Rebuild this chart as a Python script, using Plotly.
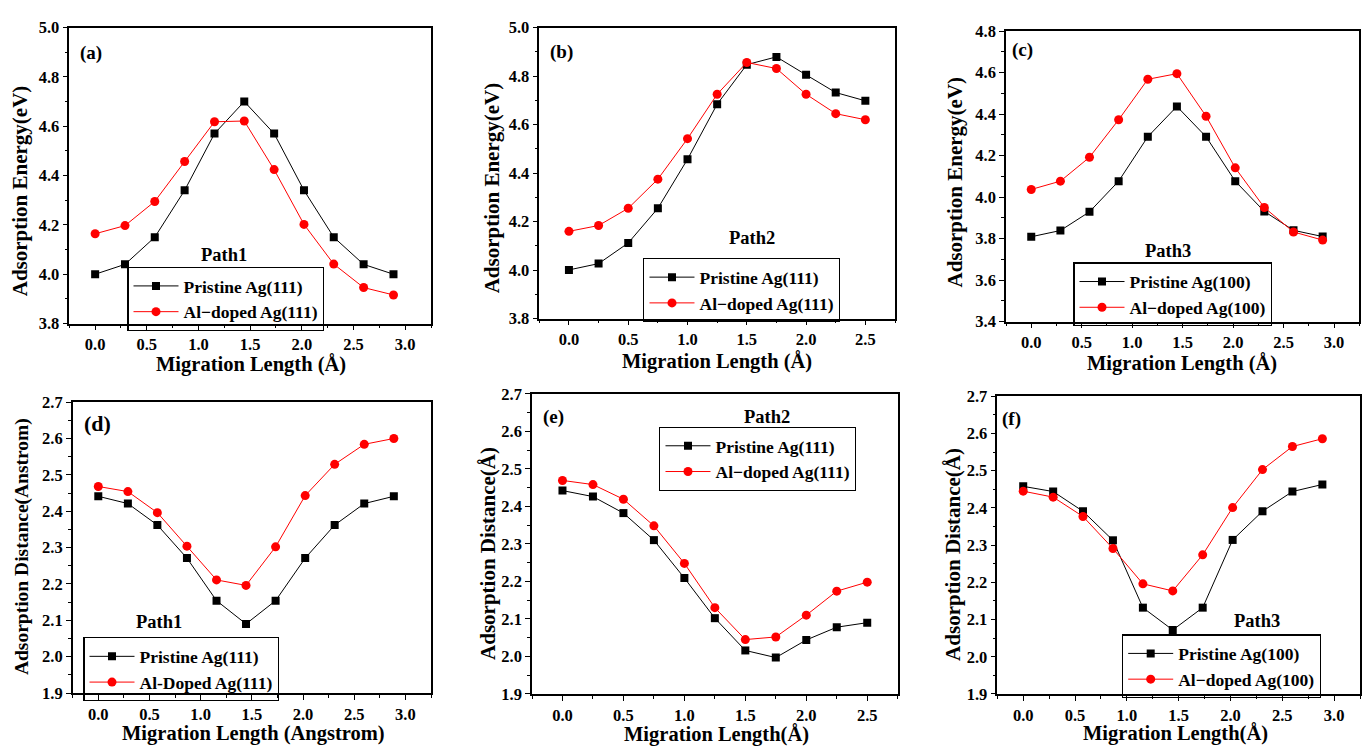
import plotly.graph_objects as go

# ---------------- data ----------------
x_path1 = [0.0, 0.289, 0.577, 0.866, 1.155, 1.443, 1.732, 2.021, 2.309, 2.598, 2.887]
x_path2 = [0.0, 0.25, 0.5, 0.75, 1.0, 1.25, 1.5, 1.75, 2.0, 2.25, 2.5]
x_path3 = [0.0, 0.289, 0.577, 0.866, 1.155, 1.443, 1.732, 2.021, 2.309, 2.598, 2.887]

energy_p1_pristine = [4.00, 4.04, 4.15, 4.34, 4.57, 4.70, 4.57, 4.34, 4.15, 4.04, 4.00]
energy_p1_doped = [4.164, 4.197, 4.295, 4.457, 4.618, 4.621, 4.424, 4.202, 4.041, 3.946, 3.916]
energy_p2_pristine = [4.001, 4.027, 4.112, 4.255, 4.457, 4.684, 4.847, 4.879, 4.805, 4.732, 4.698]
energy_p2_doped = [4.160, 4.184, 4.255, 4.375, 4.542, 4.725, 4.856, 4.831, 4.725, 4.645, 4.620]
energy_p3_pristine = [3.809, 3.839, 3.929, 4.077, 4.291, 4.437, 4.291, 4.077, 3.931, 3.840, 3.810]
energy_p3_doped = [4.037, 4.077, 4.192, 4.373, 4.568, 4.595, 4.390, 4.141, 3.950, 3.832, 3.793]

dist_p1_pristine = [2.441, 2.421, 2.362, 2.271, 2.154, 2.090, 2.154, 2.271, 2.362, 2.421, 2.441]
dist_p1_doped = [2.468, 2.454, 2.396, 2.304, 2.211, 2.196, 2.302, 2.443, 2.529, 2.584, 2.600]
dist_p2_pristine = [2.442, 2.426, 2.382, 2.310, 2.209, 2.102, 2.016, 1.997, 2.044, 2.078, 2.090]
dist_p2_doped = [2.469, 2.458, 2.419, 2.348, 2.248, 2.130, 2.045, 2.052, 2.110, 2.174, 2.198]
dist_p3_pristine = [2.458, 2.444, 2.391, 2.313, 2.132, 2.072, 2.132, 2.314, 2.391, 2.444, 2.463]
dist_p3_doped = [2.445, 2.429, 2.377, 2.291, 2.196, 2.177, 2.274, 2.401, 2.503, 2.565, 2.586]

panel_letters = ["(a)", "(b)", "(c)", "(d)", "(e)", "(f)"]
path_labels = ["Path1", "Path2", "Path3", "Path1", "Path2", "Path3"]
pristine_names = ["Pristine Ag(111)", "Pristine Ag(111)", "Pristine Ag(100)",
                  "Pristine Ag(111)", "Pristine Ag(111)", "Pristine Ag(100)"]
doped_names = ["Al\u2212doped Ag(111)", "Al\u2212doped Ag(111)", "Al\u2212doped Ag(100)",
               "Al-Doped Ag(111)", "Al\u2212doped Ag(111)", "Al\u2212doped Ag(100)"]
x_titles = ["Migration Length (\u00c5)", "Migration Length (\u00c5)", "Migration Length (\u00c5)",
            "Migration Length (Angstrom)", "Migration Length(\u00c5)", "Migration Length(\u00c5)"]
y_titles = ["Adsorption Energy(eV)", "Adsorption Energy(eV)", "Adsorption Energy(eV)",
            "Adsorption Distance(Anstrom)", "Adsorption Distance(\u00c5)", "Adsorption Distance(\u00c5)"]

xs = [x_path1, x_path2, x_path3, x_path1, x_path2, x_path3]
ys_pristine = [energy_p1_pristine, energy_p2_pristine, energy_p3_pristine,
               dist_p1_pristine, dist_p2_pristine, dist_p3_pristine]
ys_doped = [energy_p1_doped, energy_p2_doped, energy_p3_doped,
            dist_p1_doped, dist_p2_doped, dist_p3_doped]

x_ranges = [[-0.25, 3.25], [-0.25, 2.75], [-0.25, 3.25], [-0.25, 3.25], [-0.25, 2.75], [-0.25, 3.25]]
y_ranges = [[3.8, 5.0], [3.8, 5.0], [3.4, 4.8], [1.9, 2.7], [1.9, 2.7], [1.9, 2.7]]
y_dticks = [0.2, 0.2, 0.2, 0.1, 0.1, 0.1]

# ---------------- layout geometry (pixels) ----------------
W, H = 1365, 754
frames = [  # left, right, top, bottom
    (69.3, 431.0, 19.0, 322.7),
    (539.3, 895.0, 19.0, 317.7),
    (1006.0, 1359.3, 22.7, 320.7),
    (72.7, 431.0, 403.3, 701.7),
    (532.0, 897.7, 394.7, 702.7),
    (997.3, 1360.0, 397.3, 702.7),
]
legend_pos = [(127.3, 264.5), (643.3, 255.5), (1073.3, 260.0),
              (83.3, 644.5), (659.3, 428.5), (1122.0, 641.5)]
letter_pos = [(91, 45), (561, 44), (1022, 42), (97, 425), (553, 419), (1011, 421)]
path_pos = [(224, 252), (752, 235), (1168, 248), (159, 629), (767, 419), (1257, 628)]
ytitle_pos = [(20, 187), (492, 184), (955, 177), (22, 552), (488, 559), (953, 560)]
ytitle_sizes = [21, 21, 21, 19.5, 21, 21]
xtitle_pos = [(251, 365), (717, 362), (1182, 364), (253, 743), (716, 744), (1175, 743)]

FONT = "Liberation Serif"


def px(x):
    return x / W


def py(y):
    return 1 - y / H


fig = go.Figure()
layout = dict(
    width=W, height=H,
    margin=dict(l=0, r=0, t=0, b=0),
    paper_bgcolor="white", plot_bgcolor="white",
    font=dict(family=FONT, color="black", size=15, weight="bold"),
    showlegend=True,
)
annotations = []

for i in range(6):
    n = i + 1
    xa = "x" if n == 1 else f"x{n}"
    ya = "y" if n == 1 else f"y{n}"
    leg = "legend" if n == 1 else f"legend{n}"
    fig.add_trace(go.Scatter(
        x=xs[i], y=ys_pristine[i], mode="lines+markers", name=pristine_names[i],
        line=dict(color="black", width=1),
        marker=dict(symbol="square", size=8, color="black"),
        xaxis=xa, yaxis=ya, legend=leg))
    fig.add_trace(go.Scatter(
        x=xs[i], y=ys_doped[i], mode="lines+markers", name=doped_names[i],
        line=dict(color="red", width=1),
        marker=dict(symbol="circle", size=9, color="red"),
        xaxis=xa, yaxis=ya, legend=leg))

    l, r, t, b = frames[i]
    xk = "xaxis" if n == 1 else f"xaxis{n}"
    yk = "yaxis" if n == 1 else f"yaxis{n}"
    layout[xk] = dict(
        domain=[px(l), px(r)], anchor=ya, range=x_ranges[i],
        showline=True, linecolor="black", linewidth=1.5, mirror=True,
        ticks="outside", ticklen=5, tickwidth=1.2, tickcolor="black",
        dtick=0.5, tick0=0, tickformat=".1f", showgrid=False, zeroline=False,
        minor=dict(dtick=0.25, ticks="outside", ticklen=3, tickwidth=1, tickcolor="black", showgrid=False),
        tickfont=dict(family=FONT, size=16.5, weight="bold"),
    )
    layout[yk] = dict(
        domain=[py(b), py(t)], anchor=xa, range=y_ranges[i],
        showline=True, linecolor="black", linewidth=1.5, mirror=True,
        ticks="outside", ticklen=5, tickwidth=1.2, tickcolor="black",
        dtick=y_dticks[i], tick0=0, tickformat=".1f", showgrid=False, zeroline=False,
        minor=dict(dtick=y_dticks[i] / 2, ticks="outside", ticklen=3, tickwidth=1, tickcolor="black", showgrid=False),
        tickfont=dict(family=FONT, size=16.5, weight="bold"),
    )
    # mirrored axes with inward ticks (top and right)
    m = n + 6
    layout[f"xaxis{m}"] = dict(
        domain=[px(l), px(r)], anchor=ya, overlaying=xa, side="top", range=x_ranges[i],
        showline=False, ticks="inside", ticklen=5, tickwidth=1.2, tickcolor="black",
        dtick=0.5, tick0=0, showticklabels=False, showgrid=False, zeroline=False,
        minor=dict(dtick=0.25, ticks="inside", ticklen=3, tickwidth=1, tickcolor="black", showgrid=False),
    )
    layout[f"yaxis{m}"] = dict(
        domain=[py(b), py(t)], anchor=xa, overlaying=ya, side="right", range=y_ranges[i],
        showline=False, ticks="inside", ticklen=5, tickwidth=1.2, tickcolor="black",
        dtick=y_dticks[i], tick0=0, showticklabels=False, showgrid=False, zeroline=False,
        minor=dict(dtick=y_dticks[i] / 2, ticks="inside", ticklen=3, tickwidth=1, tickcolor="black", showgrid=False),
    )

    lx, ly = legend_pos[i]
    layout[leg] = dict(
        x=px(lx), y=py(ly), xanchor="left", yanchor="top",
        bgcolor="rgba(255,255,255,0)", bordercolor="black", borderwidth=1.2,
        font=dict(family=FONT, size=17.5, weight="bold", color="black"),
        tracegroupgap=0, itemsizing="trace", itemwidth=45,
    )

    ax_, ay_ = letter_pos[i]
    annotations.append(dict(x=px(ax_), y=py(ay_), xref="paper", yref="paper", text=panel_letters[i],
                            showarrow=False, xanchor="center", yanchor="middle",
                            font=dict(family=FONT, size=22 if i == 3 else 19, weight="bold")))
    pxl, pyl = path_pos[i]
    annotations.append(dict(x=px(pxl), y=py(pyl), xref="paper", yref="paper", text=path_labels[i],
                            showarrow=False, xanchor="center", yanchor="middle",
                            font=dict(family=FONT, size=18.5, weight="bold")))
    tx, ty = ytitle_pos[i]
    annotations.append(dict(x=px(tx), y=py(ty), xref="paper", yref="paper", text=y_titles[i],
                            showarrow=False, xanchor="center", yanchor="middle", textangle=-90,
                            font=dict(family=FONT, size=ytitle_sizes[i], weight="bold")))
    tx, ty = xtitle_pos[i]
    annotations.append(dict(x=px(tx), y=py(ty), xref="paper", yref="paper", text=x_titles[i],
                            showarrow=False, xanchor="center", yanchor="middle",
                            font=dict(family=FONT, size=20.5, weight="bold")))

layout["annotations"] = annotations
fig.update_layout(**layout)
fig.write_html(
    "out.html",
    config={"displayModeBar": False},
    post_script="document.body.style.margin='0';document.body.style.overflow='hidden';",
)
